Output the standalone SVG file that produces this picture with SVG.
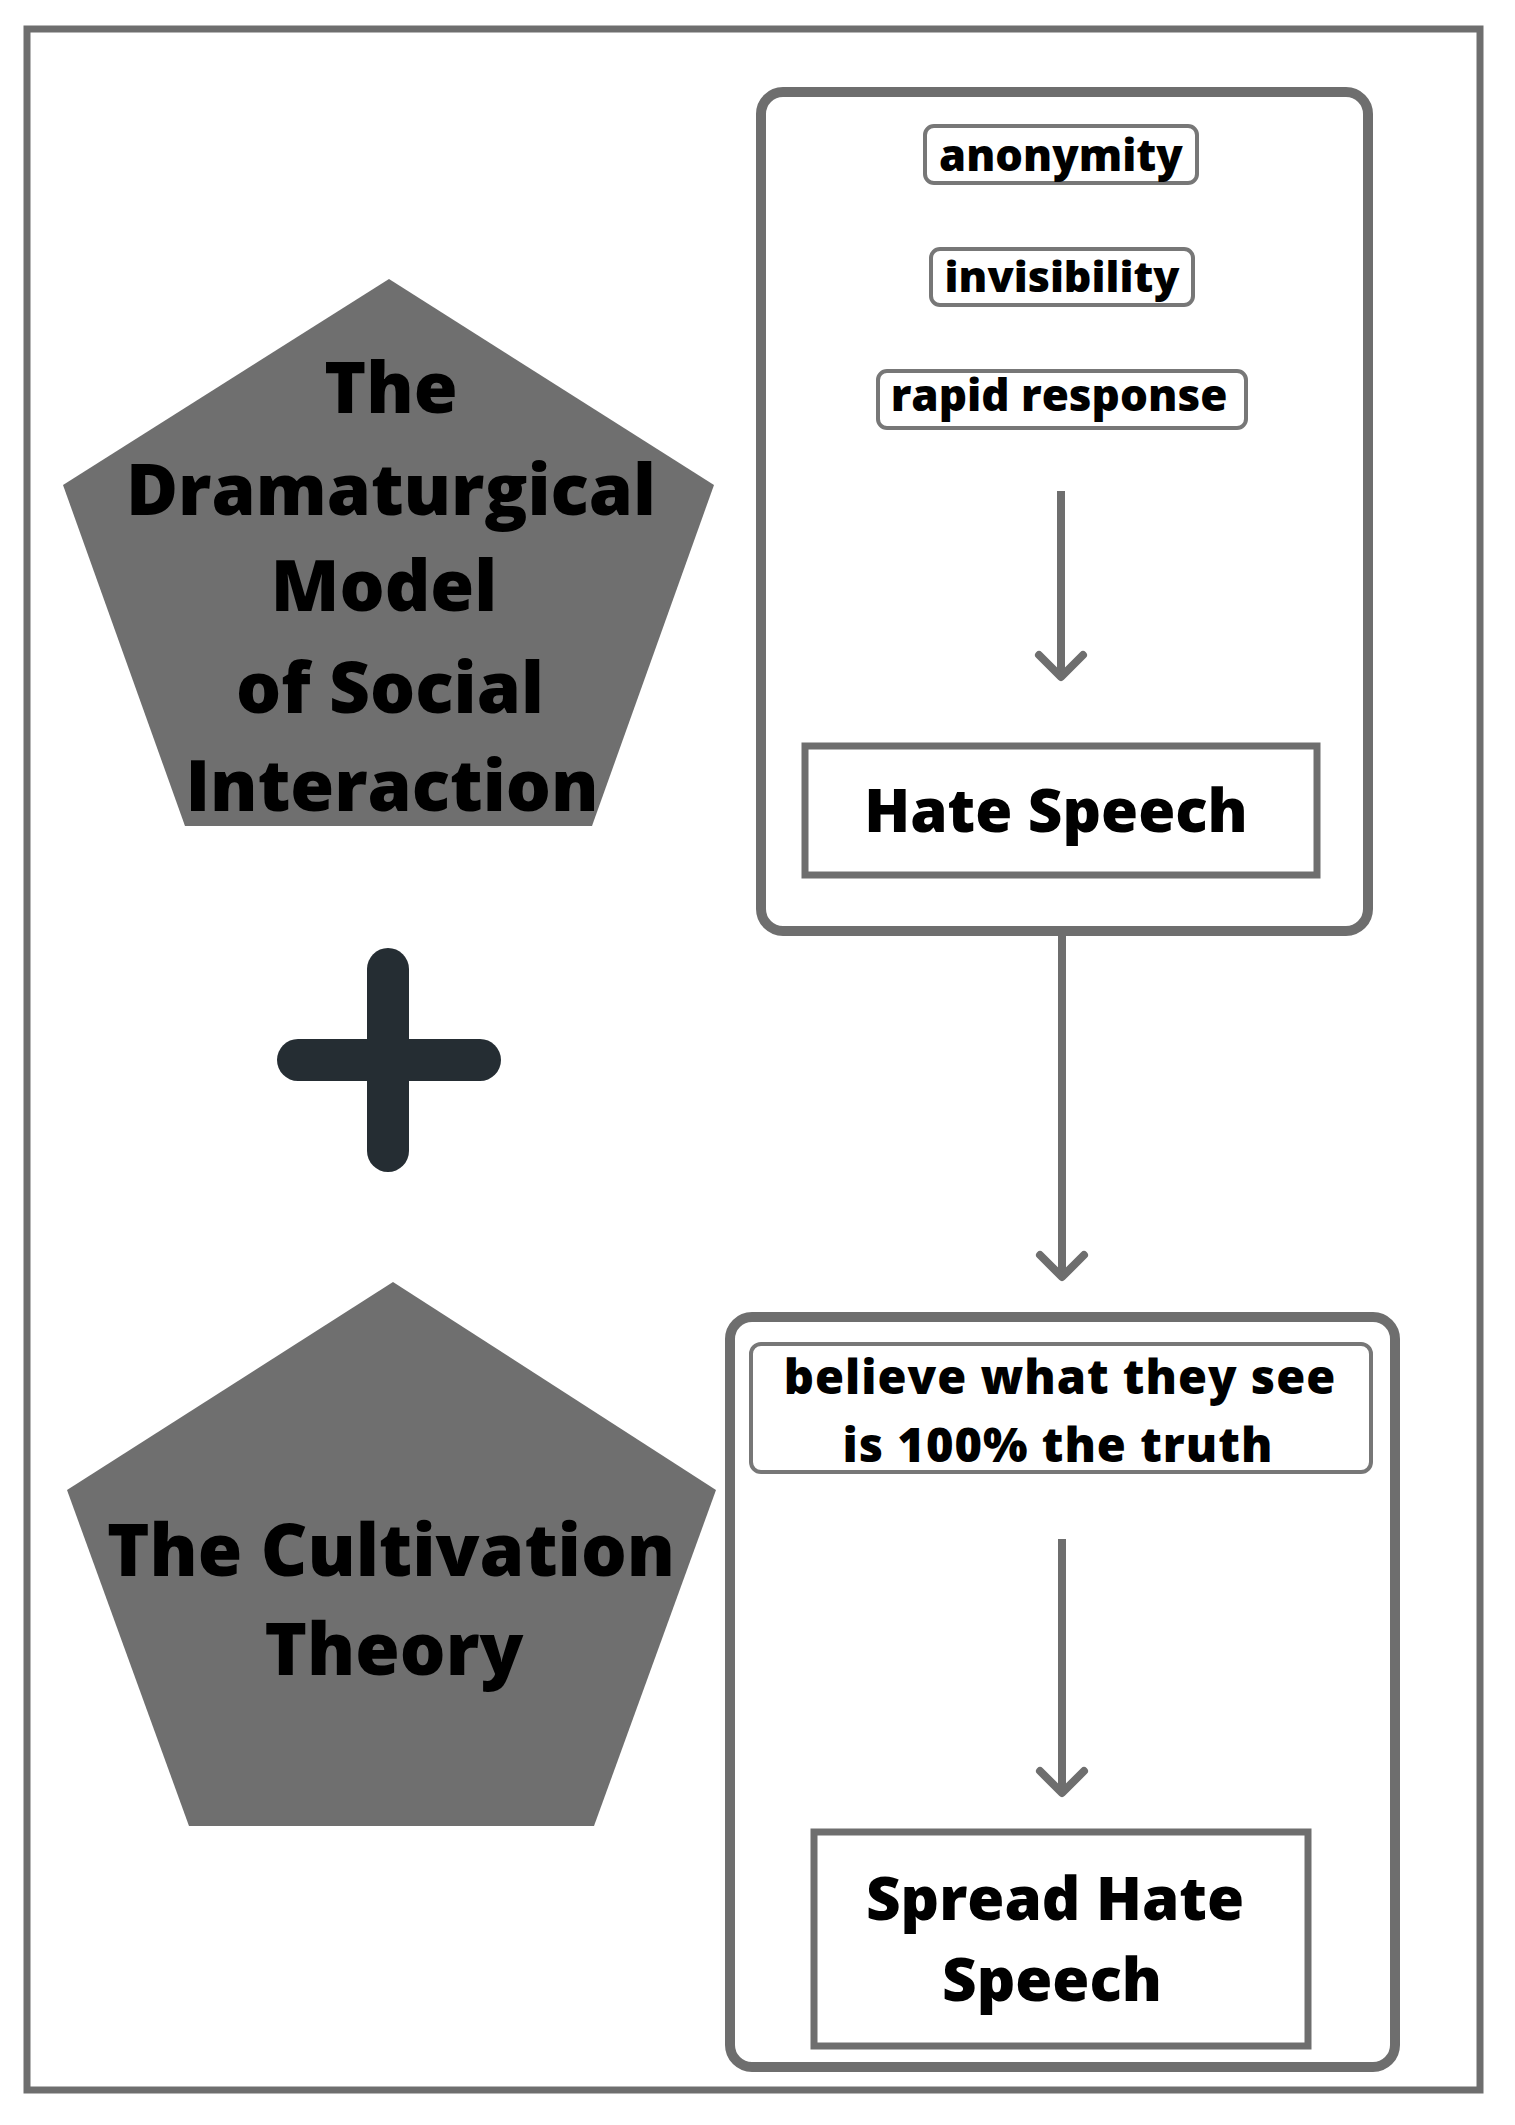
<svg xmlns="http://www.w3.org/2000/svg" width="1515" height="2125" viewBox="0 0 1515 2125">
<style>
.frame{fill:#ffffff;stroke:#6e6e6e;stroke-width:7}
.panel{fill:#ffffff;stroke:#6e6e6e;stroke-width:10}
.tag{fill:#ffffff;stroke:#777777;stroke-width:4}
.box{fill:#ffffff;stroke:#6e6e6e;stroke-width:7}
.penta{fill:#6f6f6f;stroke:none}
.t{font-family:"Open Sans","Noto Sans","DejaVu Sans",sans-serif;font-weight:800;fill:#000000;text-anchor:middle}
.conn{fill:none;stroke:#6e6e6e;stroke-width:8}
.plus{stroke:#252d33;stroke-width:42;stroke-linecap:round}
</style>
<defs>
<marker id="chev" markerUnits="userSpaceOnUse" viewBox="-32 -32 40 64" markerWidth="40" markerHeight="64" refX="0" refY="0" orient="auto" overflow="visible">
<path d="M-22,-22 L0,0 L-22,22" fill="none" stroke="#6e6e6e" stroke-width="8" stroke-linecap="round" stroke-linejoin="round"/>
</marker>
</defs>
<rect x="0" y="0" width="1515" height="2125" fill="#ffffff"/>
<rect class="frame" x="27" y="29" width="1453" height="2061"/>

<g id="pentagon-dramaturgical">
<polygon class="penta" points="389,279 714,485 592,826 185,826 63,485"/>
<text class="t" font-size="71" x="391" y="413">The</text>
<text class="t" font-size="71" x="391" y="515">Dramaturgical</text>
<text class="t" font-size="71" x="384" y="611">Model</text>
<text class="t" font-size="71" x="390" y="713">of Social</text>
<text class="t" font-size="71" x="392" y="811">Interaction</text>
</g>

<g id="plus">
<line class="plus" x1="388" y1="969" x2="388" y2="1151"/>
<line class="plus" x1="298" y1="1060" x2="480" y2="1060"/>
</g>

<g id="pentagon-cultivation">
<polygon class="penta" points="393,1282 716,1490 594,1826 189,1826 67,1490"/>
<text class="t" font-size="72" x="391" y="1576">The Cultivation</text>
<text class="t" font-size="72" x="394" y="1675">Theory</text>
</g>

<g id="panel-top">
<rect class="panel" x="761" y="92" width="607" height="839" rx="22"/>
</g>
<g id="tag-anonymity">
<rect class="tag" x="925" y="126" width="272" height="57" rx="9"/>
<text class="t" font-size="43.5" x="1061" y="171">anonymity</text>
</g>
<g id="tag-invisibility">
<rect class="tag" x="931" y="249" width="262" height="56" rx="9"/>
<text class="t" font-size="43" x="1062" y="292">invisibility</text>
</g>
<g id="tag-rapid">
<rect class="tag" x="878" y="371" width="368" height="57" rx="9"/>
<text class="t" font-size="44" x="1059" y="411">rapid response</text>
</g>
<g id="box-hate-speech">
<rect class="box" x="805" y="746" width="512" height="129"/>
<text class="t" font-size="60" x="1056" y="832">Hate Speech</text>
</g>

<g id="panel-bottom">
<rect class="panel" x="730" y="1317" width="665" height="750" rx="22"/>
</g>
<g id="box-believe">
<rect class="tag" x="751" y="1344" width="620" height="128" rx="10" stroke-width="5"/>
<text class="t" font-size="47" letter-spacing="1" x="1060" y="1394">believe what they see</text>
<text class="t" font-size="47" letter-spacing="1" x="1058" y="1462">is 100% the truth</text>
</g>
<g id="box-spread">
<rect class="box" x="814" y="1832" width="494" height="214"/>
<text class="t" font-size="60" x="1055" y="1920">Spread Hate</text>
<text class="t" font-size="60" x="1052" y="2001">Speech</text>
</g>

<g id="connectors">
<line class="conn" x1="1061" y1="491" x2="1061" y2="677" marker-end="url(#chev)"/>
<line class="conn" x1="1062" y1="936" x2="1062" y2="1277" marker-end="url(#chev)"/>
<line class="conn" x1="1062" y1="1539" x2="1062" y2="1793" marker-end="url(#chev)"/>
</g>
</svg>
